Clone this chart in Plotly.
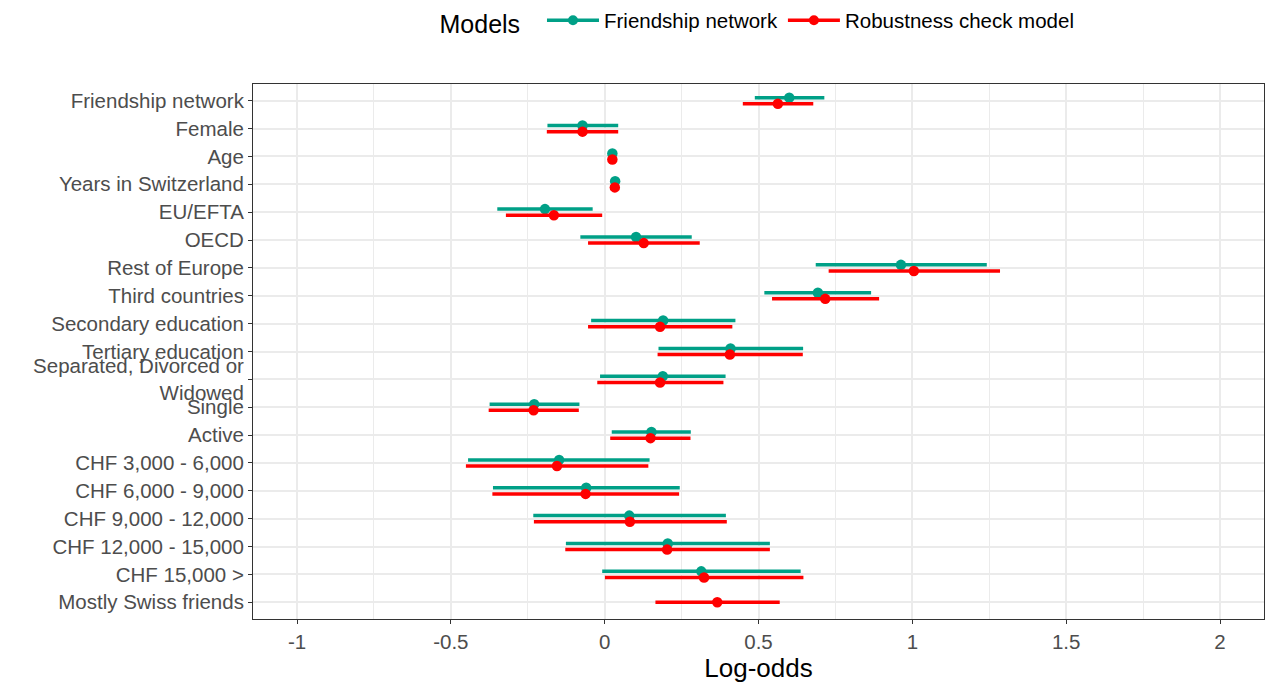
import plotly.graph_objects as go

# Model terms, top to bottom
terms = [
    "Friendship network", "Female", "Age", "Years in Switzerland", "EU/EFTA",
    "OECD", "Rest of Europe", "Third countries", "Secondary education",
    "Tertiary education", "Separated, Divorced or<br>Widowed", "Single", "Active",
    "CHF 3,000 - 6,000", "CHF 6,000 - 9,000", "CHF 9,000 - 12,000",
    "CHF 12,000 - 15,000", "CHF 15,000 >", "Mostly Swiss friends",
]

# Friendship network model: estimate and 95% interval (log-odds)
fn_est = [0.600, -0.072, 0.025, 0.034, -0.194, 0.102, 0.963, 0.693, 0.190, 0.409,
          0.189, -0.229, 0.152, -0.148, -0.060, 0.080, 0.205, 0.314, None]
fn_lo = [0.488, -0.186, 0.021, 0.030, -0.349, -0.079, 0.686, 0.519, -0.044, 0.175,
         -0.015, -0.374, 0.023, -0.444, -0.363, -0.232, -0.126, -0.008, None]
fn_hi = [0.714, 0.044, 0.029, 0.038, -0.039, 0.283, 1.242, 0.866, 0.425, 0.645,
         0.393, -0.082, 0.280, 0.146, 0.244, 0.394, 0.537, 0.637, None]

# Robustness check model
rc_est = [0.563, -0.072, 0.025, 0.033, -0.165, 0.127, 1.005, 0.717, 0.180, 0.407,
          0.180, -0.231, 0.149, -0.155, -0.062, 0.082, 0.203, 0.323, 0.366]
rc_lo = [0.449, -0.188, 0.021, 0.029, -0.321, -0.054, 0.728, 0.544, -0.054, 0.172,
         -0.024, -0.377, 0.018, -0.451, -0.365, -0.230, -0.128, 0.001, 0.165]
rc_hi = [0.678, 0.044, 0.029, 0.037, -0.008, 0.309, 1.285, 0.892, 0.415, 0.644,
         0.386, -0.084, 0.279, 0.142, 0.242, 0.397, 0.537, 0.646, 0.569]

x_ticks = [-1, -0.5, 0, 0.5, 1, 1.5, 2]
x_labels = ["-1", "-0.5", "0", "0.5", "1", "1.5", "2"]

TEAL = "#00A087"
RED = "#FF0000"
DODGE = 0.11
TICK_FONT = dict(size=20.5, color="#4D4D4D")


def model_trace(est, lo, hi, color, name, offset):
    xs, ys, plus, minus = [], [], [], []
    for i, (e, l, h) in enumerate(zip(est, lo, hi)):
        if e is None:
            continue
        # a term estimated by only one model sits centred on its row
        other = fn_est[i] if name != "Friendship network" else rc_est[i]
        xs.append(e)
        ys.append(i + (offset if other is not None else 0))
        plus.append(h - e)
        minus.append(e - l)
    return go.Scatter(
        x=xs, y=ys, mode="markers", name=name, showlegend=False,
        marker=dict(color=color, size=10.5),
        error_x=dict(type="data", symmetric=False, array=plus, arrayminus=minus,
                     color=color, thickness=3.5, width=0),
    )


fig = go.Figure()
fig.add_trace(model_trace(fn_est, fn_lo, fn_hi, TEAL, "Friendship network", -DODGE))
fig.add_trace(model_trace(rc_est, rc_lo, rc_hi, RED, "Robustness check model", DODGE))

# legend keys: line with a point
for name, color in [("Friendship network", TEAL), ("Robustness check model", RED)]:
    fig.add_trace(go.Scatter(x=[None], y=[None], mode="lines+markers", name=name,
                             line=dict(color=color, width=3.5),
                             marker=dict(color=color, size=10)))

fig.update_layout(
    width=1265, height=685,
    margin=dict(l=253, r=1, t=84, b=66),
    paper_bgcolor="white", plot_bgcolor="white",
    font=dict(family="Liberation Sans, Arial, sans-serif", color="black"),
    legend=dict(
        orientation="h", x=0.5, xanchor="center", y=0.968, yref="container",
        yanchor="middle",
        title=dict(text="Models  ", font=dict(size=25), side="left"),
        font=dict(size=20.5), itemwidth=52,
    ),
    xaxis=dict(
        range=[-1.143, 2.143], tickvals=x_ticks, ticktext=x_labels,
        showgrid=True, gridcolor="#EBEBEB", gridwidth=2,
        minor=dict(dtick=0.25, tick0=0, showgrid=True, gridcolor="#EBEBEB", gridwidth=1),
        zeroline=False, showline=True, mirror=True, linecolor="#333333", linewidth=1,
        ticks="outside", ticklen=4, tickcolor="#333333",
        tickfont=TICK_FONT,
        title=dict(text="Log-odds", font=dict(size=26), standoff=6),
    ),
    yaxis=dict(
        range=[18.6, -0.6], tickvals=list(range(len(terms))), ticktext=terms,
        showgrid=True, gridcolor="#EBEBEB", gridwidth=2,
        zeroline=False, showline=True, mirror=True, linecolor="#333333", linewidth=1,
        ticks="outside", ticklen=4, tickcolor="#333333",
        tickfont=TICK_FONT,
    ),
)

fig.write_html("out.html")
